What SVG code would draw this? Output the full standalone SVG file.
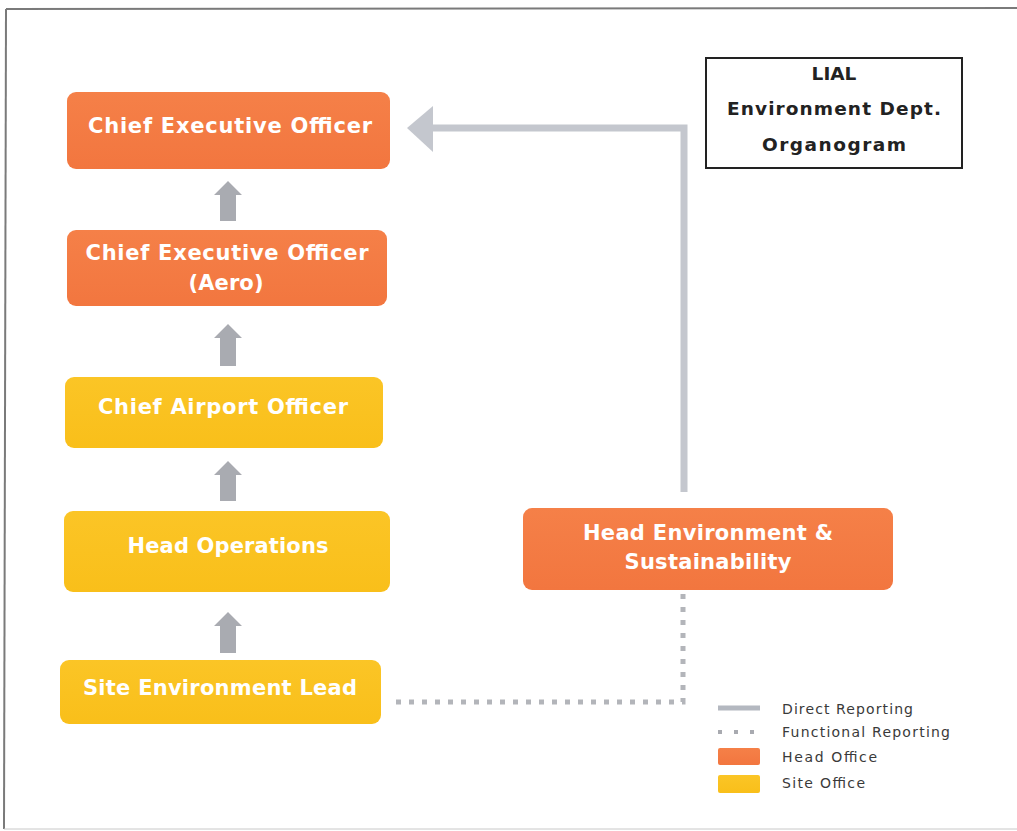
<svg xmlns="http://www.w3.org/2000/svg" width="1017" height="831" viewBox="0 0 1017 831">
  <style>
    .lbl { font-family: "DejaVu Sans", Verdana, sans-serif; font-weight: bold; font-size: 21px; fill: #ffffff; text-anchor: middle; }
    .ttl { font-family: "DejaVu Sans", Verdana, sans-serif; font-weight: bold; font-size: 18.5px; fill: #222222; text-anchor: middle; }
    .leg { font-family: "DejaVu Sans", Verdana, sans-serif; font-size: 14px; fill: #3a3a3a; }
    .head { fill: url(#gOrange); }
    .site { fill: url(#gYellow); }
    .up { fill: #a9abb1; }
    .direct { fill: none; stroke: #c4c7ce; stroke-width: 7; }
    .func { fill: none; stroke: #b3b5ba; stroke-width: 5; stroke-dasharray: 5 8; }
  </style>
  <defs>
    <linearGradient id="gOrange" x1="0" y1="0" x2="0" y2="1">
      <stop offset="0" stop-color="#f58048"/>
      <stop offset="1" stop-color="#f2763f"/>
    </linearGradient>
    <linearGradient id="gYellow" x1="0" y1="0" x2="0" y2="1">
      <stop offset="0" stop-color="#fbc526"/>
      <stop offset="1" stop-color="#f9bf1a"/>
    </linearGradient>
  </defs>
  <rect width="1017" height="831" fill="#ffffff"/>
  <!-- page frame -->
  <g id="frame" fill="none" stroke="#7a7a7a">
    <line x1="6" y1="9" x2="1017" y2="8" stroke-width="2"/>
    <line x1="6" y1="9" x2="4" y2="829" stroke-width="2"/>
    <line x1="4" y1="829" x2="1017" y2="829" stroke-width="1" stroke="#c8c8c8"/>
  </g>

  <!-- connectors -->
  <g id="connectors">
    <path class="direct" d="M684,492 V128 H432"/>
    <polygon fill="#c4c7ce" points="407,128 433,106 433,152"/>
    <path class="func" d="M683,594 V702 H390"/>
    <path class="up" d="M228,181 L242,195 L236,195 L236,221 L220,221 L220,195 L214,195 Z"/>
    <path class="up" d="M228,324 L242,338 L236,338 L236,366 L220,366 L220,338 L214,338 Z"/>
    <path class="up" d="M228,461 L242,475 L236,475 L236,501 L220,501 L220,475 L214,475 Z"/>
    <path class="up" d="M228,612 L242,626 L236,626 L236,653 L220,653 L220,626 L214,626 Z"/>
  </g>

  <g id="ceo">
    <rect class="head" x="67" y="92" width="323" height="77" rx="9"/>
    <text class="lbl" x="230" y="133" textLength="284" lengthAdjust="spacing">Chief Executive Officer</text>
  </g>
  <g id="ceo-aero">
    <rect class="head" x="67" y="230" width="320" height="76" rx="9"/>
    <text class="lbl" x="227" y="260" textLength="283" lengthAdjust="spacing">Chief Executive Officer</text>
    <text class="lbl" x="226" y="290" textLength="75" lengthAdjust="spacing">(Aero)</text>
  </g>
  <g id="cao">
    <rect class="site" x="65" y="377" width="318" height="71" rx="9"/>
    <text class="lbl" x="223" y="414" textLength="250" lengthAdjust="spacing">Chief Airport Officer</text>
  </g>
  <g id="head-ops">
    <rect class="site" x="64" y="511" width="326" height="81" rx="9"/>
    <text class="lbl" x="228" y="553" textLength="201" lengthAdjust="spacing">Head Operations</text>
  </g>
  <g id="site-env-lead">
    <rect class="site" x="60" y="660" width="321" height="64" rx="9"/>
    <text class="lbl" x="220" y="695" textLength="274" lengthAdjust="spacing">Site Environment Lead</text>
  </g>
  <g id="head-env">
    <rect class="head" x="523" y="508" width="370" height="82" rx="9"/>
    <text class="lbl" x="708" y="540" textLength="250" lengthAdjust="spacing">Head Environment &amp;</text>
    <text class="lbl" x="708" y="569" textLength="167" lengthAdjust="spacing">Sustainability</text>
  </g>

  <g id="title">
    <rect x="706" y="58" width="256" height="110" fill="#ffffff" stroke="#222222" stroke-width="2"/>
    <text class="ttl" x="834" y="80">LIAL</text>
    <text class="ttl" x="834" y="115" textLength="214" lengthAdjust="spacing">Environment Dept.</text>
    <text class="ttl" x="834" y="151" textLength="144" lengthAdjust="spacing">Organogram</text>
  </g>

  <g id="legend">
    <line x1="718" y1="708" x2="760" y2="708" stroke="#b4b8c0" stroke-width="5"/>
    <text class="leg" x="782" y="714" textLength="131" lengthAdjust="spacing">Direct Reporting</text>
    <line x1="718" y1="732" x2="762" y2="732" stroke="#a8aab0" stroke-width="4" stroke-dasharray="4 12"/>
    <text class="leg" x="782" y="737" textLength="168" lengthAdjust="spacing">Functional Reporting</text>
    <rect class="head" x="718" y="748" width="42" height="17" rx="2"/>
    <text class="leg" x="782" y="762" textLength="95" lengthAdjust="spacing">Head Office</text>
    <rect class="site" x="718" y="775" width="42" height="18" rx="2"/>
    <text class="leg" x="782" y="788" textLength="83" lengthAdjust="spacing">Site Office</text>
  </g>
</svg>
